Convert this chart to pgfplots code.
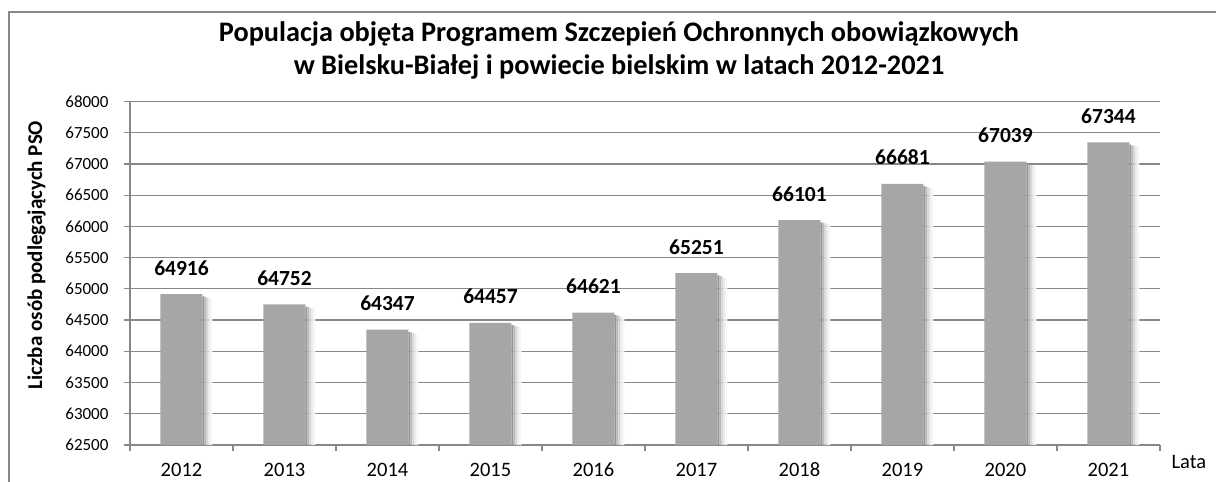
\documentclass[border=0pt]{standalone}
\usepackage{fontspec}
\setmainfont{Carlito}[BoldFont={Carlito Bold}]
\usepackage{pgfplots}
\pgfplotsset{compat=1.18}
\definecolor{bargray}{HTML}{A6A6A6}
\definecolor{gridgray}{HTML}{888888}
\pgfkeys{/pgf/number format/.cd,1000 sep={},assume math mode=true}
\begin{document}
\begin{tikzpicture}
\useasboundingbox (0pt,0pt) rectangle (1216pt,482pt);
\draw[gridgray, line width=1.2pt] (9pt,-5pt) -- (9pt,470pt) -- (1230pt,470pt);
\node[anchor=base, font=\bfseries\fontsize{28.3}{32}\selectfont] at (619pt,440pt) {Populacja objęta Programem Szczepień Ochronnych obowiązkowych};
\node[anchor=base, font=\bfseries\fontsize{28.3}{32}\selectfont] at (619pt,407pt) {w Bielsku-Białej i powiecie bielskim w latach 2012-2021};
\begin{axis}[
  at={(130pt,37pt)}, anchor=south west,
  scale only axis, width=1030pt, height=343.5pt,
  xmin=-0.5, xmax=9.5, ymin=62500, ymax=68000,
  ytick={62500,63000,...,68000},
  scaled y ticks=false,
  xtick={0,...,9},
  xticklabels={2012,2013,2014,2015,2016,2017,2018,2019,2020,2021},
  minor xtick={-0.5,0.5,...,9.5},
  axis lines*=left,
  axis line style={gridgray, line width=1.2pt},
  ymajorgrids,
  grid style={gridgray, line width=1.2pt},
  tick align=outside,
  major tick length=6pt,
  minor tick length=6pt,
  major x tick style={draw=none},
  minor x tick style={gridgray, line width=1.2pt},
  major y tick style={gridgray, line width=1.2pt},
  yticklabel style={font=\fontsize{17}{20}\selectfont, text=black, xshift=-12pt},
  xticklabel style={font=\fontsize{20.5}{24}\selectfont, text=black, inner sep=0pt, text height=14pt, text depth=4pt, yshift=-11pt},
  ylabel={Liczba osób podlegających PSO},
  ylabel style={font=\bfseries\fontsize{21}{24}\selectfont, at={(axis description cs:-0.0854,0.553)}, anchor=base},
  ybar, bar width=42pt,
  clip=false,
]
% shadow strips
\addplot[draw=none, fill=black!42, bar width=2pt, bar shift=22pt]
  coordinates {(0,64880) (1,64716) (2,64311) (3,64421) (4,64585) (5,65215) (6,66065) (7,66645) (8,67003) (9,67308)};
\addplot[draw=none, fill=black!28, bar width=2pt, bar shift=24pt]
  coordinates {(0,64870) (1,64706) (2,64301) (3,64411) (4,64575) (5,65205) (6,66055) (7,66635) (8,66993) (9,67298)};
\addplot[draw=none, fill=black!16, bar width=2pt, bar shift=26pt]
  coordinates {(0,64860) (1,64696) (2,64291) (3,64401) (4,64565) (5,65195) (6,66045) (7,66625) (8,66983) (9,67288)};
\addplot[draw=none, fill=black!8, bar width=2pt, bar shift=28pt]
  coordinates {(0,64850) (1,64686) (2,64281) (3,64391) (4,64555) (5,65185) (6,66035) (7,66615) (8,66973) (9,67278)};
\addplot[draw=none, fill=black!3, bar width=2pt, bar shift=30pt]
  coordinates {(0,64840) (1,64676) (2,64271) (3,64381) (4,64545) (5,65175) (6,66025) (7,66605) (8,66963) (9,67268)};
% bars
\addplot[fill=bargray, draw=none, bar shift=0pt,
  nodes near coords,
  every node near coord/.append style={font=\bfseries\fontsize{21.5}{24}\selectfont, anchor=base, yshift=19pt, inner sep=0pt, text=black}]
  coordinates {(0,64916) (1,64752) (2,64347) (3,64457) (4,64621) (5,65251) (6,66101) (7,66681) (8,67039) (9,67344)};
\node[anchor=base west, font=\fontsize{20.5}{24}\selectfont] at (rel axis cs:1,0) [xshift=8pt, yshift=-23pt] {Lata};
\end{axis}
\end{tikzpicture}
\end{document}
